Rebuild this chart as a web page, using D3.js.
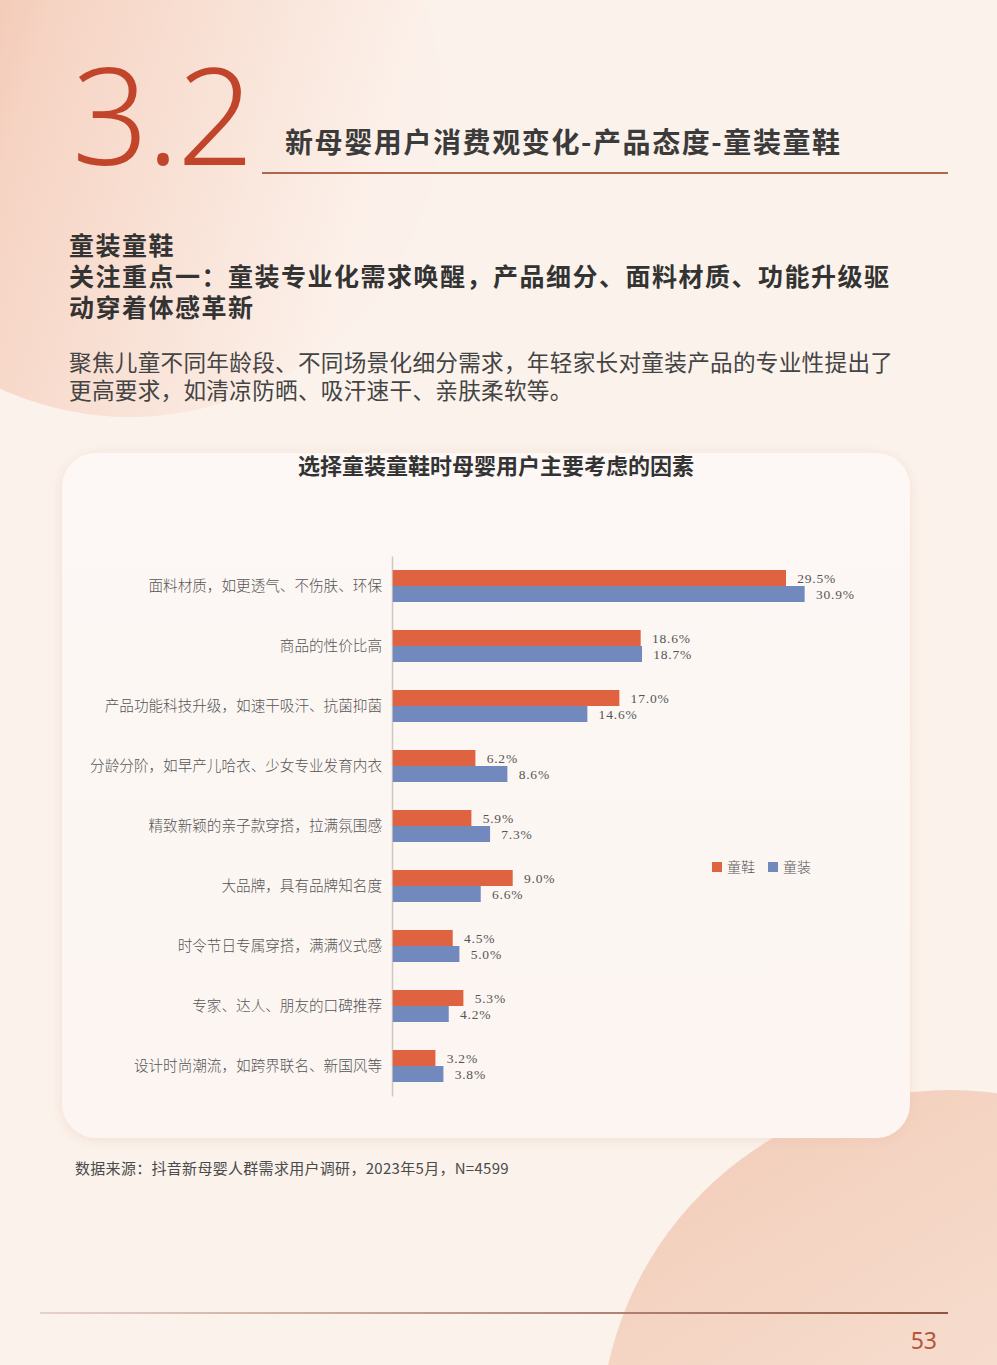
<!DOCTYPE html>
<html>
<head>
<meta charset="utf-8">
<script src="https://cdn.jsdelivr.net/npm/d3@7"></script>
<style>
	body { margin: 0; background: #fbf2eb; }
	svg { display: block; }
</style>
</head>
<body>
<svg></svg>
<script>
const size = { w: 997, h: 1365 };
const plot = { x0: 392, top: 556, bottom: 1096 };

// data
const categories = [
	"面料材质，如更透气、不伤肤、环保",
	"商品的性价比高",
	"产品功能科技升级，如速干吸汗、抗菌抑菌",
	"分龄分阶，如早产儿哈衣、少女专业发育内衣",
	"精致新颖的亲子款穿搭，拉满氛围感",
	"大品牌，具有品牌知名度",
	"时令节日专属穿搭，满满仪式感",
	"专家、达人、朋友的口碑推荐",
	"设计时尚潮流，如跨界联名、新国风等"
];
const seriesNames = ["童鞋", "童装"];
const shoes = [29.5, 18.6, 17.0, 6.2, 5.9, 9.0, 4.5, 5.3, 3.2];
const clothes = [30.9, 18.7, 14.6, 8.6, 7.3, 6.6, 5.0, 4.2, 3.8];
const colors = ["#df6340", "#7189bd"];

const svg = d3.select("svg").attr("width", size.w).attr("height", size.h);

// ---- background ----
const defs = svg.append("defs");
const g1 = defs.append("linearGradient").attr("id", "circTL").attr("x1", 0).attr("y1", 0).attr("x2", 1).attr("y2", 0.3);
g1.append("stop").attr("offset", "0%").attr("stop-color", "#eda68c");
g1.append("stop").attr("offset", "45%").attr("stop-color", "#f6d4c4");
g1.append("stop").attr("offset", "100%").attr("stop-color", "#fcf1ea");
const g2 = defs.append("linearGradient").attr("id", "circBR").attr("x1", 0).attr("y1", 0).attr("x2", 0.6).attr("y2", 1);
g2.append("stop").attr("offset", "0%").attr("stop-color", "#f2cbb7");
g2.append("stop").attr("offset", "100%").attr("stop-color", "#faebe1");
const g3 = defs.append("linearGradient").attr("id", "card").attr("x1", 0).attr("y1", 0).attr("x2", 0).attr("y2", 1);
g3.append("stop").attr("offset", "0%").attr("stop-color", "#fdf8f5");
g3.append("stop").attr("offset", "100%").attr("stop-color", "#fcf5f2");
const g4 = defs.append("linearGradient").attr("id", "rule");
g4.append("stop").attr("offset", "0%").attr("stop-color", "#e6d2cb");
g4.append("stop").attr("offset", "100%").attr("stop-color", "#8e5542");
const f = defs.append("filter").attr("id", "shadow").attr("x", "-5%").attr("y", "-5%").attr("width", "110%").attr("height", "110%");
f.append("feDropShadow").attr("dx", 0).attr("dy", 2).attr("stdDeviation", 6).attr("flood-color", "#e3b8a4").attr("flood-opacity", 0.35);

svg.append("rect").attr("width", size.w).attr("height", size.h).attr("fill", "#fbf2eb");
svg.append("circle").attr("cx", 130).attr("cy", 105).attr("r", 312).attr("fill", "url(#circTL)");
svg.append("circle").attr("cx", 950).attr("cy", 1440).attr("r", 350).attr("fill", "url(#circBR)");

// ---- header ----
svg.append("text")
	.attr("x", 72).attr("y", 165)
	.attr("font-family", "Noto Sans, sans-serif")
	.attr("font-weight", 300)
	.attr("font-size", 134)
	.attr("letter-spacing", -2)
	.attr("fill", "#c1452b")
	.text("3.2");

svg.append("text")
	.attr("x", 285).attr("y", 153)
	.attr("font-family", "Noto Sans CJK SC")
	.attr("font-weight", 700)
	.attr("font-size", 28)
	.attr("letter-spacing", 1.6)
	.attr("fill", "#3b3b3b")
	.text("新母婴用户消费观变化-产品态度-童装童鞋");

svg.append("line")
	.attr("x1", 262).attr("x2", 948).attr("y1", 173).attr("y2", 173)
	.attr("stroke", "#b0664a").attr("stroke-width", 2);

const heads = ["童装童鞋", "关注重点一：童装专业化需求唤醒，产品细分、面料材质、功能升级驱", "动穿着体感革新"];
svg.append("g").selectAll("text").data(heads).join("text")
	.attr("x", 69).attr("y", (d, i) => 255 + i * 31)
	.attr("font-family", "Noto Sans CJK SC")
	.attr("font-weight", 700)
	.attr("font-size", 25)
	.attr("letter-spacing", 1.5)
	.attr("fill", "#333")
	.text((d) => d);

const para = ["聚焦儿童不同年龄段、不同场景化细分需求，年轻家长对童装产品的专业性提出了", "更高要求，如清凉防晒、吸汗速干、亲肤柔软等。"];
svg.append("g").selectAll("text").data(para).join("text")
	.attr("x", 69).attr("y", (d, i) => 371 + i * 28)
	.attr("font-family", "Noto Sans CJK SC")
	.attr("font-size", 22.6)
	.attr("letter-spacing", 0.3)
	.attr("fill", "#444")
	.text((d) => d);

// ---- chart card ----
svg.append("rect")
	.attr("x", 62).attr("y", 453).attr("width", 848).attr("height", 685)
	.attr("rx", 34)
	.attr("fill", "url(#card)")
	.attr("filter", "url(#shadow)");

svg.append("text")
	.attr("x", 496).attr("y", 474)
	.attr("text-anchor", "middle")
	.attr("font-family", "Noto Sans CJK SC")
	.attr("font-weight", 700)
	.attr("font-size", 22)
	.attr("fill", "#333")
	.text("选择童装童鞋时母婴用户主要考虑的因素");

// scales
const y = d3.scaleBand().domain(categories).range([plot.top, plot.bottom]);
const barH = 16;
const ySub = d3.scaleBand().domain(seriesNames).range([y.bandwidth() / 2 - barH, y.bandwidth() / 2 + barH]);
const x = d3.scaleLinear().domain([0, 35]).range([plot.x0, plot.x0 + 35 * 13.33]);

const rows = categories.map((c, i) => ({ cat: c, vals: [shoes[i], clothes[i]] }));

const chartG = svg.append("g");

// category axis
const yAxis = chartG.append("g")
	.attr("transform", `translate(${plot.x0},0)`)
	.call(d3.axisLeft(y).tickSize(0).tickPadding(10));
yAxis.select(".domain").attr("stroke", "#cfc6c2").attr("stroke-width", 1.5);
yAxis.selectAll("text")
	.attr("font-family", "Noto Sans CJK SC")
	.attr("font-size", 14.6)
	.attr("font-weight", 300)
	.attr("fill", "#555")
	.attr("dy", "0.36em");

const groups = chartG.selectAll(".grp").data(rows).join("g")
	.attr("class", "grp")
	.attr("transform", (d) => `translate(0,${y(d.cat)})`);

const cells = groups.selectAll("g").data((d) => d.vals.map((v, k) => ({ v, k }))).join("g");

cells.append("rect")
	.attr("x", x(0) + 0.75)
	.attr("y", (d) => ySub(seriesNames[d.k]))
	.attr("width", (d) => x(d.v) - x(0))
	.attr("height", ySub.bandwidth())
	.attr("fill", (d) => colors[d.k]);

cells.append("text")
	.attr("x", (d) => x(d.v) + 12)
	.attr("y", (d) => ySub(seriesNames[d.k]) + ySub.bandwidth() / 2)
	.attr("dy", "0.35em")
	.attr("font-family", "Liberation Serif, serif")
	.attr("font-size", 13.5)
	.attr("letter-spacing", 0.8)
	.attr("fill", "#555")
	.text((d) => d.v.toFixed(1) + "%");

// legend
const legend = chartG.append("g").attr("transform", "translate(712,867)");
const li = legend.selectAll("g").data(seriesNames).join("g")
	.attr("transform", (d, i) => `translate(${i * 56},0)`);
li.append("rect").attr("x", 0).attr("y", -5).attr("width", 10).attr("height", 10)
	.attr("fill", (d, i) => colors[i]);
li.append("text").attr("x", 15).attr("dy", "0.36em")
	.attr("font-family", "Noto Sans CJK SC")
	.attr("font-weight", 300)
	.attr("font-size", 14)
	.attr("fill", "#555")
	.text((d) => d);

// ---- footer ----
svg.append("text")
	.attr("x", 75).attr("y", 1174)
	.attr("font-family", "Noto Sans CJK SC")
	.attr("font-size", 15)
	.attr("letter-spacing", 0.3)
	.attr("fill", "#4a4a4a")
	.text("数据来源：抖音新母婴人群需求用户调研，2023年5月，N=4599");

svg.append("rect")
	.attr("x", 40).attr("y", 1312).attr("width", 908).attr("height", 2)
	.attr("fill", "url(#rule)");

svg.append("text")
	.attr("x", 937).attr("y", 1349)
	.attr("text-anchor", "end")
	.attr("font-family", "Noto Sans, sans-serif")
	.attr("font-size", 23)
	.attr("fill", "#b5553a")
	.text("53");
</script>
</body>
</html>
